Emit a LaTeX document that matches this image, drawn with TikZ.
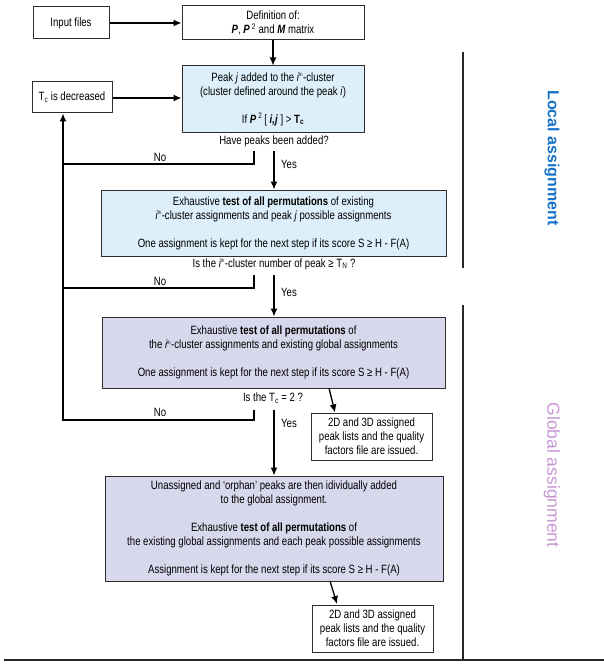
\documentclass[tikz,border=0pt]{standalone}
\usepackage{fontspec}
\setmainfont[FakeStretch=0.8]{Liberation Sans}
\newfontfamily\sidefont{Liberation Sans}
\usetikzlibrary{arrows.meta}
\definecolor{lblue}{RGB}{221,239,250}
\definecolor{lpurp}{RGB}{216,216,236}
\definecolor{locblue}{RGB}{20,114,200}
\definecolor{globpurp}{RGB}{200,150,212}
\definecolor{edge}{RGB}{45,45,45}
\tikzset{
  x=1pt,y=-1pt,
  box/.style={draw=edge,line width=1pt,align=center,inner sep=0pt,
    font=\fontsize{12}{14}\selectfont},
  bluebox/.style={box,fill=lblue},
  purpbox/.style={box,fill=lpurp},
  lbl/.style={font=\fontsize{12}{14}\selectfont,inner sep=0pt},
  arr/.style={line width=1.3pt,draw=black,-{Latex[length=8pt,width=7pt]}},
  ln/.style={line width=1.3pt,draw=black},
  rule/.style={line width=1.6pt,draw=black!85},
}
\newcommand{\ith}{\textit{i}\textsuperscript{\fontsize{5}{5}\selectfont th}}
\begin{document}
\begin{tikzpicture}
\useasboundingbox (0,0) rectangle (604,666);
% boxes
\node[box,minimum width=76pt,minimum height=32pt] (inp) at (71,23) {Input files};
\node[box,minimum width=182pt,minimum height=34pt] (def) at (273,23)
  {Definition of:\\ \textbf{\textit{P}}, \textbf{\textit{P}}\,\textsuperscript{2} and \textbf{\textit{M}} matrix};
\node[bluebox,minimum width=182pt,minimum height=66pt] (peak) at (273,99)
  {Peak \textit{j} added to the \ith-cluster\\ (cluster defined around the peak \textit{i})\\[14pt]
   If \textbf{\textit{P}}\,\textsuperscript{2}\,[ \textbf{\textit{i,j}} ] > \textbf{T\textsubscript{c}}};
\node[box,minimum width=80pt,minimum height=31pt] (tc) at (72,97.5) {T\textsubscript{c} is decreased};
\node[bluebox,minimum width=345pt,minimum height=66pt] (b2) at (273.5,223)
  {Exhaustive \textbf{test of all permutations} of existing\\ \ith-cluster assignments and peak \textit{j} possible assignments\\[14pt]
   One assignment is kept for the next step if its score S ≥ H - F(A)};
\node[purpbox,minimum width=343pt,minimum height=71pt] (b3) at (273.5,352.5)
  {Exhaustive \textbf{test of all permutations} of\\ the \ith-cluster assignments and existing global assignments\\[14pt]
   One assignment is kept for the next step if its score S ≥ H - F(A)};
\node[box,fill=white,minimum width=121pt,minimum height=47pt] (o1) at (371.5,436.5)
  {2D and 3D assigned\\ peak lists and the quality\\ factors file are issued.};
\node[purpbox,minimum width=338pt,minimum height=105pt] (b4) at (274,528.5)
  {Unassigned and `orphan' peaks are then idividually added\\ to the global assignment.\\[14pt]
   Exhaustive \textbf{test of all permutations} of\\ the existing global assignments and each peak possible assignments\\[14pt]
   Assignment is kept for the next step if its score S ≥ H - F(A)};
\node[box,fill=white,minimum width=121pt,minimum height=47pt] (o2) at (372.5,628.5)
  {2D and 3D assigned\\ peak lists and the quality\\ factors file are issued.};
% decision texts
\node[lbl] (q1) at (274,141) {Have peaks been added?};
\node[lbl] (q2) at (274,264) {Is the \ith-cluster number of peak ≥ T\textsubscript{N} ?};
\node[lbl] (q3) at (273,398) {Is the T\textsubscript{c} = 2 ?};
\node[lbl] at (160,157) {No};
\node[lbl] at (160,281) {No};
\node[lbl] at (160,412) {No};
\node[lbl] at (289,164) {Yes};
\node[lbl] at (289,292) {Yes};
\node[lbl] at (289,423) {Yes};
% coordinates
\coordinate (n1) at (254,151);
\coordinate (n2) at (254,275);
\coordinate (n3) at (254,410);
\coordinate (y1) at (274,151);
\coordinate (y2) at (274,275);
\coordinate (y3) at (274,410);
\coordinate (col) at (63,0);
\coordinate (d1s) at (329,388);
\coordinate (d2s) at (330,581);
% connectors
\draw[arr] (inp.east) -- (def.west |- inp.east);
\draw[arr] (def.south) -- (peak.north);
\draw[arr] (tc.east |- 0,98) -- (peak.west |- 0,98);
\draw[arr] (y1) -- (b2.north -| y1);
\draw[arr] (y2) -- (b3.north -| y2);
\draw[arr] (y3) -- (b4.north -| y3);
\draw[ln] (n1) |- (col |- 0,164);
\draw[ln] (n2) |- (col |- 0,288);
\draw[arr] (n3) |- (col |- 0,420) -- (col |- tc.south);
\draw[arr] (d1s) -- (335,412.5);
\draw[arr] (d2s) -- (337,604);
% side rules and labels
\draw[rule] (463,52) -- (463,268);
\draw[rule] (463,305) -- (463,660);
\draw[rule] (4,660) -- (604,660);
\node[rotate=-90,text=locblue,font=\sidefont\fontsize{16}{16}\selectfont\bfseries] (loc) at (552,158) {Local assignment};
\node[rotate=-90,text=globpurp,font=\sidefont\fontsize{17.5}{16}\selectfont] (glob) at (552,475) {Global assignment};
\end{tikzpicture}
\end{document}
